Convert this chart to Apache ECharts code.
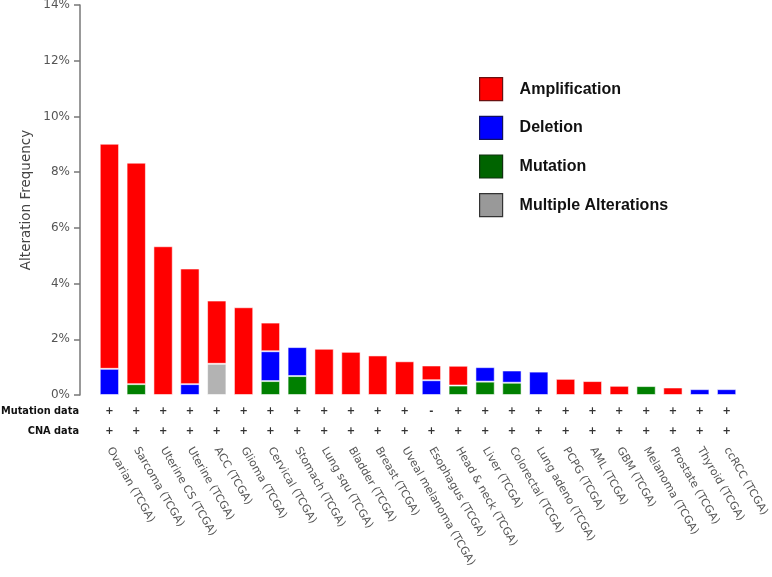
<!DOCTYPE html>
<html>
<head>
<meta charset="utf-8">
<script src="https://cdn.jsdelivr.net/npm/echarts@6/dist/echarts.min.js"></script>
<style>html,body{margin:0;padding:0;background:#fff}#c{width:772px;height:577px}</style>
</head>
<body>
<div id="c"></div>
<script>
const categories = ['Ovarian (TCGA)','Sarcoma (TCGA)','Uterine CS (TCGA)','Uterine (TCGA)','ACC (TCGA)','Glioma (TCGA)','Cervical (TCGA)','Stomach (TCGA)','Lung squ (TCGA)','Bladder (TCGA)','Breast (TCGA)','Uveal melanoma (TCGA)','Esophagus (TCGA)','Head & neck (TCGA)','Liver (TCGA)','Colorectal (TCGA)','Lung adeno (TCGA)','PCPG (TCGA)','AML (TCGA)','GBM (TCGA)','Melanoma (TCGA)','Prostate (TCGA)','Thyroid (TCGA)','ccRCC (TCGA)'];
const amplification = [8.08, 7.95, 5.34, 4.15, 2.27, 3.15, 1.03, 0, 1.66, 1.55, 1.42, 1.21, 0.53, 0.71, 0, 0, 0, 0.58, 0.50, 0.33, 0, 0.27, 0, 0];
const deletion      = [0.94, 0, 0, 0.39, 0, 0, 1.07, 1.04, 0, 0, 0, 0, 0.53, 0, 0.52, 0.44, 0.84, 0, 0, 0, 0, 0, 0.21, 0.21];
const mutation      = [0, 0.39, 0, 0, 0, 0, 0.50, 0.68, 0, 0, 0, 0, 0, 0.34, 0.48, 0.44, 0, 0, 0, 0, 0.32, 0, 0, 0];
const multiple      = [0, 0, 0, 0, 1.12, 0, 0, 0, 0, 0, 0, 0, 0, 0, 0, 0, 0, 0, 0, 0, 0, 0, 0, 0];
const mutationRow = ['+','+','+','+','+','+','+','+','+','+','+','+','-','+','+','+','+','+','+','+','+','+','+','+'];
const cnaRow      = ['+','+','+','+','+','+','+','+','+','+','+','+','+','+','+','+','+','+','+','+','+','+','+','+'];
const yTicks = {min: 0, max: 14, step: 2};

const chart = echarts.init(document.getElementById('c'), null, {renderer: 'canvas'});
const nz = a => a.map(v => v === 0 ? '-' : v);
const barBase = {type: 'bar', stack: 'alt', barWidth: '72%', xAxisIndex: 0, yAxisIndex: 0,
  itemStyle: {borderColor: 'rgba(255,255,255,0.55)', borderWidth: 1}};
const rowAxis = (row, name, offset) => ({
  type: 'category', data: categories, position: 'bottom', offset: offset,
  axisLine: {show: false}, axisTick: {show: false},
  axisLabel: {interval: 0, margin: 0, verticalAlign: 'middle', formatter: (v, i) => row[i],
    fontFamily: 'DejaVu Sans', fontWeight: 'bold', fontSize: 10, color: '#333'},
  name: name, nameLocation: 'start', nameGap: 17, nameMoveOverlap: false,
  nameTextStyle: {fontFamily: 'DejaVu Sans', fontWeight: 'bold', fontSize: 9.8, color: '#111', align: 'right', verticalAlign: 'middle'}
});
chart.setOption({
  animation: false,
  grid: {left: 96, top: 5, width: 644, height: 390, outerBoundsMode: 'none', containLabel: false},
  legend: {
    orient: 'vertical', left: 474, top: 72, padding: 5, itemWidth: 23, itemHeight: 23, itemGap: 14.5, icon: 'rect',
    textStyle: {fontFamily: 'Liberation Sans', fontWeight: 'bold', fontSize: 16, color: '#111', padding: [0, 0, 0, 12]},
    data: [
      {name: 'Amplification', itemStyle: {color: '#ff0000', borderColor: '#6a1010', borderWidth: 1.2}},
      {name: 'Deletion', itemStyle: {color: '#0000ff', borderColor: '#101060', borderWidth: 1.2}},
      {name: 'Mutation', itemStyle: {color: '#006400', borderColor: '#103010', borderWidth: 1.2}},
      {name: 'Multiple Alterations', itemStyle: {color: '#999999', borderColor: '#333333', borderWidth: 1.2}}
    ]
  },
  xAxis: [
    {type: 'category', data: categories, position: 'bottom',
      axisLine: {show: false}, axisTick: {show: false},
      axisLabel: {interval: 0, rotate: -60, margin: 53, fontFamily: 'DejaVu Sans', fontSize: 11, color: '#555'}},
    rowAxis(mutationRow, 'Mutation data', 16),
    rowAxis(cnaRow, 'CNA data', 36)
  ],
  yAxis: {
    type: 'value', min: yTicks.min, max: yTicks.max, interval: yTicks.step, offset: 16,
    axisLine: {show: true, lineStyle: {color: '#777', width: 1.5}},
    axisTick: {show: true, length: 6, lineStyle: {color: '#777', width: 1.5}},
    splitLine: {show: false},
    axisLabel: {formatter: '{value}%', margin: 10, fontFamily: 'DejaVu Sans', fontSize: 12, color: '#555'},
    name: 'Alteration Frequency', nameLocation: 'middle', nameGap: 47, nameMoveOverlap: false,
    nameTextStyle: {fontFamily: 'DejaVu Sans', fontSize: 13.5, color: '#444'}
  },
  series: [
    Object.assign({}, barBase, {name: 'Mutation', data: nz(mutation), itemStyle: Object.assign({}, barBase.itemStyle, {color: '#008000'})}),
    Object.assign({}, barBase, {name: 'Deletion', data: nz(deletion), itemStyle: Object.assign({}, barBase.itemStyle, {color: '#0000ff'})}),
    Object.assign({}, barBase, {name: 'Multiple Alterations', data: nz(multiple), itemStyle: Object.assign({}, barBase.itemStyle, {color: '#b3b3b3'})}),
    Object.assign({}, barBase, {name: 'Amplification', data: nz(amplification), itemStyle: Object.assign({}, barBase.itemStyle, {color: '#ff0000'})})
  ]
});
</script>
</body>
</html>
